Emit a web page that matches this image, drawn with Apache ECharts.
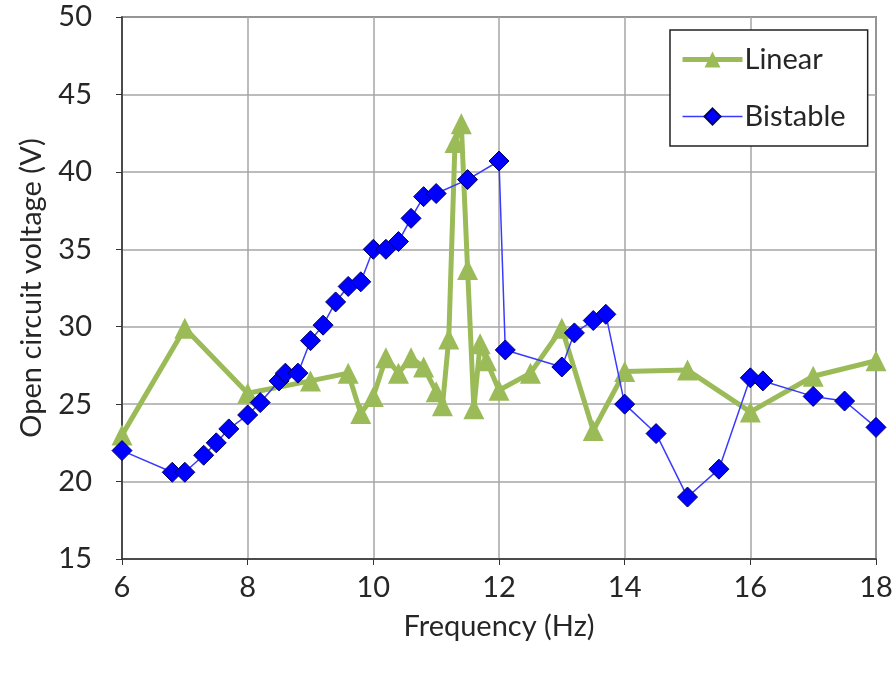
<!DOCTYPE html>
<html>
<head>
<meta charset="utf-8">
<script src="https://cdn.jsdelivr.net/npm/echarts@6/dist/echarts.min.js"></script>
<style>
  html, body { margin: 0; padding: 0; background: #fff; }
  #chart { width: 896px; height: 676px; }
</style>
</head>
<body>
<div id="chart"></div>
<script>
const xTicks = [6, 8, 10, 12, 14, 16, 18]
const yTicks = [15, 20, 25, 30, 35, 40, 45, 50]

const linearFreq = [6, 7, 8, 9, 9.6, 9.8, 10, 10.2, 10.4, 10.6, 10.8, 11, 11.1, 11.2, 11.3, 11.4, 11.5, 11.6, 11.7, 11.8, 12, 12.5, 13, 13.5, 14, 15, 16, 17, 18]
const linearVolt = [23.0, 29.9, 25.7, 26.5, 27.0, 24.4, 25.5, 28.0, 27.0, 28.0, 27.4, 25.8, 24.9, 29.2, 41.9, 43.1, 33.7, 24.7, 28.9, 27.8, 25.9, 27.0, 29.9, 23.3, 27.1, 27.2, 24.5, 26.8, 27.8]

const bistableFreq = [6, 6.8, 7, 7.3, 7.5, 7.7, 8, 8.2, 8.5, 8.6, 8.8, 9, 9.2, 9.4, 9.6, 9.8, 10, 10.2, 10.4, 10.6, 10.8, 11, 11.5, 12, 12.1, 13, 13.2, 13.5, 13.7, 14, 14.5, 15, 15.5, 16, 16.2, 17, 17.5, 18]
const bistableVolt = [22.0, 20.6, 20.6, 21.7, 22.5, 23.4, 24.3, 25.1, 26.5, 27.0, 27.0, 29.1, 30.1, 31.6, 32.6, 32.9, 35.0, 35.0, 35.5, 37.0, 38.4, 38.6, 39.5, 40.7, 28.5, 27.4, 29.6, 30.4, 30.8, 25.0, 23.1, 19.0, 20.8, 26.7, 26.5, 25.5, 25.2, 23.5]

const FONT = "Lato, 'Open Sans', sans-serif"
const TEXT = "#262626"
const FS = 29

const toPairs = (xs, ys) => xs.map((x, i) => [x, ys[i]])

const chart = echarts.init(document.getElementById("chart"))
chart.setOption({
  animation: false,
  backgroundColor: "#fff",
  textStyle: { fontFamily: FONT, color: TEXT },
  grid: {
    left: 122, right: 20, top: 17, bottom: 117,
    show: true, borderColor: "#333", borderWidth: 1.5,
  },
  legend: {
    left: 670, top: 30,
    orient: "vertical",
    itemWidth: 60, itemHeight: 20, itemGap: 28,
    padding: [15, 22, 15, 10],
    borderColor: "#222", borderWidth: 1.5,
    backgroundColor: "#fff",
    textStyle: { fontFamily: FONT, fontSize: FS, color: TEXT, padding: [0, 0, 0, -3] },
    data: [
      { name: "Linear", lineStyle: { width: 5 } },
      { name: "Bistable", lineStyle: { width: 1.5 } },
    ],
  },
  xAxis: {
    type: "value",
    min: xTicks[0], max: xTicks[xTicks.length - 1], interval: 2,
    name: "Frequency (Hz)",
    nameLocation: "middle", nameGap: 53,
    nameTextStyle: { fontFamily: FONT, fontSize: FS, color: TEXT },
    axisLine: { onZero: false, lineStyle: { color: "#333", width: 1.5 } },
    axisTick: { show: true, length: 6, lineStyle: { color: "#333" } },
    axisLabel: { fontSize: FS, color: TEXT, margin: 14 },
    splitLine: { lineStyle: { color: "#a6a6a6", width: 1.5 } },
  },
  yAxis: {
    type: "value",
    min: yTicks[0], max: yTicks[yTicks.length - 1], interval: 5,
    name: "Open circuit voltage (V)",
    nameLocation: "middle", nameGap: 76,
    nameTextStyle: { fontFamily: FONT, fontSize: FS, color: TEXT },
    axisLine: { onZero: false, lineStyle: { color: "#333", width: 1.5 } },
    axisTick: { show: true, length: 6, lineStyle: { color: "#333" } },
    axisLabel: { fontSize: FS, color: TEXT, margin: 30 },
    splitLine: { lineStyle: { color: "#a6a6a6", width: 1.5 } },
  },
  series: [
    {
      name: "Linear",
      type: "line",
      data: toPairs(linearFreq, linearVolt),
      symbol: "triangle",
      symbolSize: 21,
      lineStyle: { color: "#9bbb59", width: 5 },
      itemStyle: { color: "#9bbb59" },
      z: 2,
    },
    {
      name: "Bistable",
      type: "line",
      data: toPairs(bistableFreq, bistableVolt),
      symbol: "diamond",
      symbolSize: 20,
      lineStyle: { color: "#3a3aff", width: 1.5 },
      itemStyle: { color: "#0000ff", borderColor: "#000066", borderWidth: 1 },
      z: 3,
    },
  ],
})
</script>
</body>
</html>
